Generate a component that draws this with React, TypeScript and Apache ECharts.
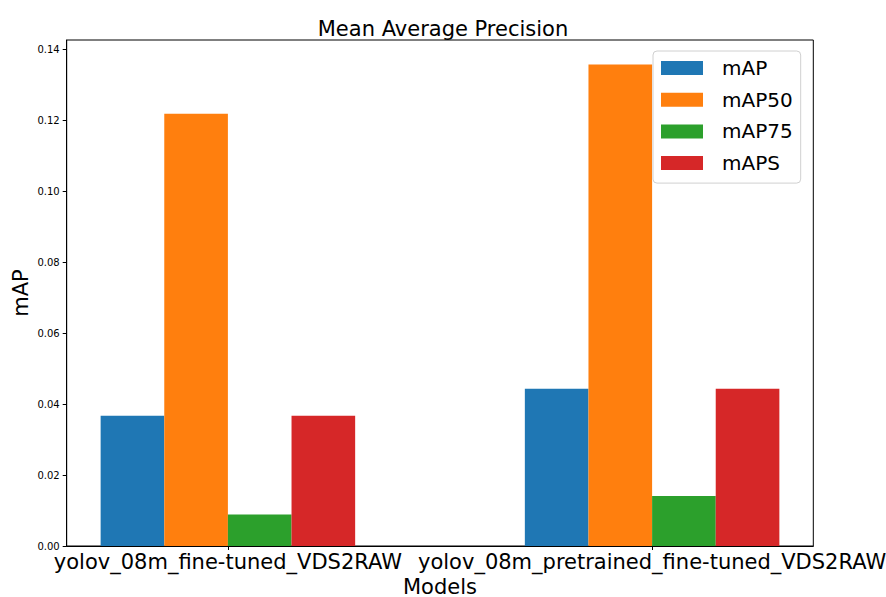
import React, { useEffect, useRef } from "react";
import * as echarts from "echarts";

const categories = ["yolov_08m_fine-tuned_VDS2RAW", "yolov_08m_pretrained_fine-tuned_VDS2RAW"];
const seriesNames = ["mAP", "mAP50", "mAP75", "mAPS"];
const mAP = [0.0367, 0.0443];
const mAP50 = [0.1218, 0.1357];
const mAP75 = [0.0089, 0.0141];
const mAPS = [0.0367, 0.0443];
const yTicks = [0, 0.02, 0.04, 0.06, 0.08, 0.1, 0.12, 0.14];
const colors = ["#1f77b4", "#ff7f0e", "#2ca02c", "#d62728"];

const barWidthUnits = 0.15;
const allValues = [mAP, mAP50, mAP75, mAPS];

export default function App() {
  const ref = useRef<HTMLDivElement>(null);
  useEffect(() => {
    if (!ref.current) return;
    const chart = echarts.init(ref.current, null, { renderer: "svg" });
    const font = "DejaVu Sans";
    const gridLeft = 66.7;
    const gridRight = 72.7;
    const plotW = 886 - gridLeft - gridRight;
    const xMin = -0.38;
    const xMax = 1.38;
    const barPx = (barWidthUnits * plotW) / (xMax - xMin);
    const series = allValues.map((vals, si) => ({
      name: seriesNames[si],
      type: "bar",
      barWidth: barPx,
      barGap: "-100%",
      itemStyle: { color: colors[si] },
      data: vals.map((v, ci) => [ci + (si - 1.5) * barWidthUnits, v]),
    }));
    chart.setOption({
      animation: false,
      textStyle: { fontFamily: font },
      title: {
        text: "Mean Average Precision",
        left: "center",
        top: 13,
        textStyle: { fontFamily: font, fontSize: 21, fontWeight: "normal", color: "#000" },
      },
      grid: {
        left: gridLeft,
        right: gridRight,
        top: 40,
        bottom: 51,
        containLabel: false,
        outerBoundsMode: "none",
        show: true,
        borderColor: "#000",
        borderWidth: 1,
      },
      legend: {
        orient: "vertical",
        left: 653,
        top: 51,
        padding: [7, 8, 10, 8],
        itemWidth: 42,
        itemHeight: 14,
        itemGap: 11.7,
        icon: "rect",
        backgroundColor: "#fff",
        borderColor: "#d0d0d0",
        borderWidth: 1,
        borderRadius: 4,
        textStyle: { fontFamily: font, fontSize: 20, color: "#000", lineHeight: 20, padding: [0, 0, 0, 14] },
        data: seriesNames,
      },
      xAxis: {
        type: "value",
        min: xMin,
        max: xMax,
        name: "Models",
        nameLocation: "middle",
        nameGap: 30,
        nameMoveOverlap: false,
        nameTextStyle: { fontFamily: font, fontSize: 21, color: "#000" },
        splitLine: { show: false },
        axisLine: { show: true, onZero: false, lineStyle: { color: "#000", width: 1 } },
        axisTick: { show: true, length: 4, lineStyle: { color: "#000" }, customValues: [0, 1] },
        axisLabel: {
          customValues: [0, 1],
          margin: 5,
          fontFamily: font,
          fontSize: 21,
          color: "#000",
          formatter: (v: number) => categories[Math.round(v)] ?? "",
        },
      },
      yAxis: {
        type: "value",
        min: 0,
        max: 0.1426,
        name: "mAP",
        nameLocation: "middle",
        nameGap: 35,
        nameMoveOverlap: false,
        nameTextStyle: { fontFamily: font, fontSize: 21, color: "#000" },
        splitLine: { show: false },
        axisLine: { show: true, onZero: false, lineStyle: { color: "#000", width: 1 } },
        axisTick: { show: true, length: 4, lineStyle: { color: "#000" }, customValues: yTicks },
        axisLabel: {
          customValues: yTicks,
          margin: 7,
          fontFamily: font,
          fontSize: 10,
          color: "#000",
          formatter: (v: number) => v.toFixed(2),
        },
      },
      series,
    });
    return () => chart.dispose();
  }, []);
  return <div ref={ref} style={{ width: 886, height: 597, position: "absolute", left: 0, top: 0 }} />;
}
